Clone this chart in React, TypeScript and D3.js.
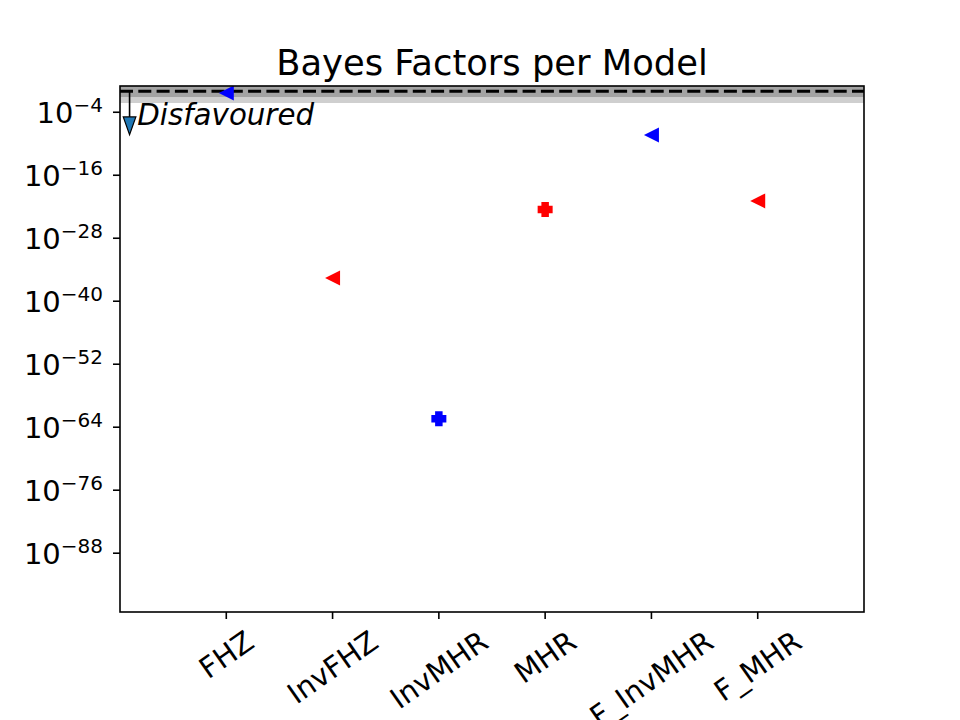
import React, { useEffect, useRef } from "react";
import * as d3 from "d3";

const models = ["FHZ", "InvFHZ", "InvMHR", "MHR", "F_InvMHR", "F_MHR"];
const bayesFactors = [0.45, 2.6e-36, 4.2e-63, 3e-23, 4.6e-9, 1.3e-21];
const markerShapes = ["<", "<", "P", "P", "<", "<"];
const markerColors = ["blue", "red", "blue", "red", "blue", "red"];
const yTickExponents = [-4, -16, -28, -40, -52, -64, -76, -88];
const referenceLevel = 1;
const bandDark = [0.08, 10];
const bandLight = [0.0058, 10];

const W = 960, H = 720;
const L = 120, R = 864, T = 86, B = 612;
const FONT = "DejaVu Sans, sans-serif";

export default function App() {
  const ref = useRef<SVGSVGElement>(null);
  useEffect(() => {
    const svg = d3.select(ref.current);
    svg.selectAll("*").remove();
    const x = d3.scaleLinear().domain([-1, 6]).range([L, R]);
    const y = d3.scaleLog().domain([Math.pow(10, -99.2), 10]).range([B, T]);

    svg.append("rect").attr("width", W).attr("height", H).attr("fill", "white");

    svg.append("defs").append("clipPath").attr("id", "plotclip")
      .append("rect").attr("x", L).attr("y", T).attr("width", R - L).attr("height", B - T);
    const g = svg.append("g").attr("clip-path", "url(#plotclip)");

    // bands
    g.append("rect").attr("x", L).attr("width", R - L)
      .attr("y", y(bandLight[1])).attr("height", y(bandLight[0]) - y(bandLight[1]))
      .attr("fill", "#cfcfcf");
    g.append("rect").attr("x", L).attr("width", R - L)
      .attr("y", y(bandDark[1])).attr("height", y(bandDark[0]) - y(bandDark[1]))
      .attr("fill", "#a3a3a3");
    // dashed reference line
    g.append("line").attr("x1", L).attr("x2", R)
      .attr("y1", y(referenceLevel)).attr("y2", y(referenceLevel))
      .attr("stroke", "black").attr("stroke-width", 3)
      .attr("stroke-dasharray", "13,5.3");

    // arrow "Disfavoured"
    const ax = x(-0.91);
    const yStart = y(referenceLevel);
    const yHead = y(Math.pow(10, -4.9));
    const yTip = y(Math.pow(10, -8.3));
    g.append("line").attr("x1", ax).attr("x2", ax).attr("y1", yStart).attr("y2", yHead)
      .attr("stroke", "black").attr("stroke-width", 1.6);
    g.append("path")
      .attr("d", `M${ax - 6.3},${yHead} L${ax + 6.3},${yHead} L${ax},${yTip} Z`)
      .attr("fill", "#1f77b4").attr("stroke", "black").attr("stroke-width", 1.2)
      .attr("stroke-linejoin", "miter");
    g.append("text").attr("x", x(-0.837)).attr("y", y(Math.pow(10, -6.4)))
      .attr("font-family", FONT).attr("font-style", "italic").attr("font-size", 29.3)
      .attr("fill", "black").text("Disfavoured");

    // markers
    const s = 7.5;
    models.forEach((m, i) => {
      const cx = x(i), cy = y(bayesFactors[i]);
      let d = "";
      if (markerShapes[i] === "<") {
        d = `M${cx - s},${cy} L${cx + s},${cy - s} L${cx + s},${cy + s} Z`;
      } else {
        const a = s / 2;
        d = `M${cx - a},${cy - s} H${cx + a} V${cy - a} H${cx + s} V${cy + a} H${cx + a} V${cy + s} H${cx - a} V${cy + a} H${cx - s} V${cy - a} H${cx - a} Z`;
      }
      g.append("path").attr("d", d).attr("fill", markerColors[i]);
    });

    // y ticks
    yTickExponents.forEach((e) => {
      const ty = y(Math.pow(10, e));
      svg.append("line").attr("x1", L - 7).attr("x2", L).attr("y1", ty).attr("y2", ty)
        .attr("stroke", "black").attr("stroke-width", 1.6);
      const t = svg.append("text").attr("x", 103).attr("y", ty + 11)
        .attr("text-anchor", "end").attr("font-family", FONT).attr("font-size", 29).attr("fill", "black");
      t.append("tspan").text("10");
      t.append("tspan").attr("dy", -11.5).attr("font-size", 20).text("\u2212" + Math.abs(e));
    });

    // x ticks
    const theta = (35 * Math.PI) / 180;
    models.forEach((m, i) => {
      const tx = x(i);
      svg.append("line").attr("x1", tx).attr("x2", tx).attr("y1", B).attr("y2", B + 7)
        .attr("stroke", "black").attr("stroke-width", 1.6);
      const t = svg.append("text").attr("text-anchor", "middle")
        .attr("font-family", FONT).attr("font-size", 29).attr("fill", "black")
        .attr("dy", "0.35em").text(m);
      const w = (t.node() as SVGTextElement).getComputedTextLength();
      const h = 29;
      const boxH = w * Math.sin(theta) + h * Math.cos(theta);
      const cy = B + 14 + boxH / 2;
      t.attr("transform", `translate(${tx},${cy}) rotate(-35)`);
    });

    // spines
    svg.append("rect").attr("x", L).attr("y", T).attr("width", R - L).attr("height", B - T)
      .attr("fill", "none").attr("stroke", "black").attr("stroke-width", 1.6);

    // title
    svg.append("text").attr("x", (L + R) / 2).attr("y", 75).attr("text-anchor", "middle")
      .attr("font-family", FONT).attr("font-size", 35.3).attr("fill", "black")
      .text("Bayes Factors per Model");
  }, []);
  return (
    <svg ref={ref} width={W} height={H}
      style={{ position: "absolute", left: 0, top: 0, display: "block" }} />
  );
}
